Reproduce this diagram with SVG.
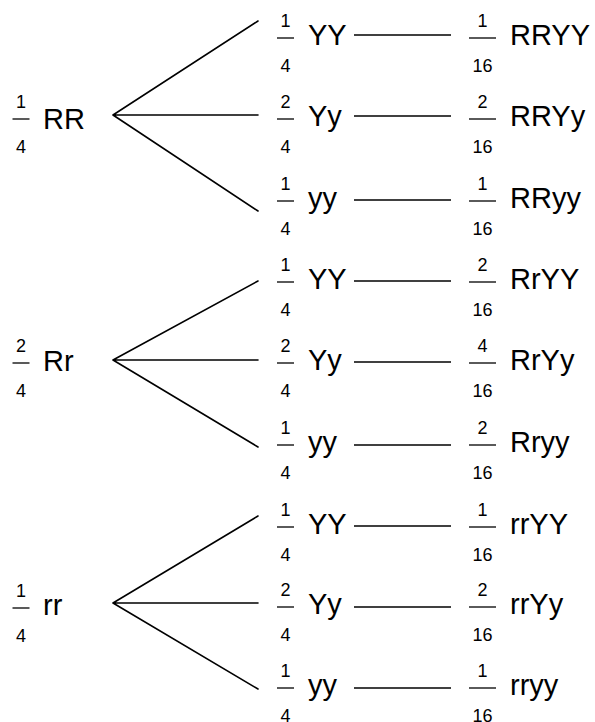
<svg xmlns="http://www.w3.org/2000/svg" width="595" height="722" viewBox="0 0 595 722">
<style>
text{font-family:"Liberation Sans",Arial,sans-serif;fill:#000}
.d{font-size:18px;text-anchor:middle}
.m{font-size:29px}
.bar{stroke:#000;stroke-width:1.3}
.br{stroke:#000;stroke-width:1.6;fill:none;stroke-linecap:round}
.cn{stroke:#000;stroke-width:1.6}
</style>
<rect width="595" height="722" fill="#fff"/>
<defs>
<g id="f4">
<line class="bar" x1="-8.5" y1="0" x2="8.5" y2="0"/>
<text class="d" x="0" y="34">4</text>
</g>
<g id="f16">
<line class="bar" x1="-13.5" y1="0" x2="13.5" y2="0"/>
<text class="d" x="0" y="34">16</text>
</g>
</defs>

<g id="connectors">
<path class="br" d="M113,115 L258,21 M113,115 L258,115 M113,115 L258,211"/>
<path class="br" d="M113,360 L258,281 M113,360 L258,360 M113,360 L258,447"/>
<path class="br" d="M113,603 L258,516 M113,603 L258,603 M113,603 L258,689"/>
<line class="cn" x1="354" y1="35" x2="451" y2="35"/>
<line class="cn" x1="354" y1="116" x2="451" y2="116"/>
<line class="cn" x1="354" y1="200" x2="451" y2="200"/>
<line class="cn" x1="354" y1="281" x2="451" y2="281"/>
<line class="cn" x1="354" y1="362" x2="451" y2="362"/>
<line class="cn" x1="354" y1="445" x2="451" y2="445"/>
<line class="cn" x1="354" y1="526" x2="451" y2="526"/>
<line class="cn" x1="354" y1="607" x2="451" y2="607"/>
<line class="cn" x1="354" y1="688" x2="451" y2="688"/>
</g>

<g id="RR">
<text class="d" x="21" y="108">1</text><use href="#f4" x="21" y="119"/>
<text class="m" x="43" y="129">RR</text>
</g>
<g id="Rr">
<text class="d" x="21" y="352">2</text><use href="#f4" x="21" y="363"/>
<text class="m" x="43" y="371">Rr</text>
</g>
<g id="rr">
<text class="d" x="21" y="597">1</text><use href="#f4" x="21" y="608"/>
<text class="m" x="43" y="615">rr</text>
</g>

<g id="RR-YY"><text class="d" x="285.5" y="27">1</text><use href="#f4" x="285.5" y="38"/><text class="m" x="308" y="45">YY</text></g>
<g id="RR-Yy"><text class="d" x="285.5" y="108">2</text><use href="#f4" x="285.5" y="119"/><text class="m" x="308" y="126">Yy</text></g>
<g id="RR-yy"><text class="d" x="285.5" y="190">1</text><use href="#f4" x="285.5" y="201"/><text class="m" x="308" y="208">yy</text></g>
<g id="Rr-YY"><text class="d" x="285.5" y="271">1</text><use href="#f4" x="285.5" y="282"/><text class="m" x="308" y="289">YY</text></g>
<g id="Rr-Yy"><text class="d" x="285.5" y="352">2</text><use href="#f4" x="285.5" y="363"/><text class="m" x="308" y="370">Yy</text></g>
<g id="Rr-yy"><text class="d" x="285.5" y="434">1</text><use href="#f4" x="285.5" y="445"/><text class="m" x="308" y="452">yy</text></g>
<g id="rr-YY"><text class="d" x="285.5" y="516">1</text><use href="#f4" x="285.5" y="527"/><text class="m" x="308" y="534">YY</text></g>
<g id="rr-Yy"><text class="d" x="285.5" y="596">2</text><use href="#f4" x="285.5" y="607"/><text class="m" x="308" y="614">Yy</text></g>
<g id="rr-yy"><text class="d" x="285.5" y="677">1</text><use href="#f4" x="285.5" y="688"/><text class="m" x="308" y="695">yy</text></g>

<g id="RRYY"><text class="d" x="482.5" y="27">1</text><use href="#f16" x="482.5" y="38"/><text class="m" x="510" y="45">RRYY</text></g>
<g id="RRYy"><text class="d" x="482.5" y="108">2</text><use href="#f16" x="482.5" y="119"/><text class="m" x="510" y="126">RRYy</text></g>
<g id="RRyy"><text class="d" x="482.5" y="190">1</text><use href="#f16" x="482.5" y="201"/><text class="m" x="510" y="208">RRyy</text></g>
<g id="RrYY"><text class="d" x="482.5" y="271">2</text><use href="#f16" x="482.5" y="282"/><text class="m" x="510" y="289">RrYY</text></g>
<g id="RrYy"><text class="d" x="482.5" y="352">4</text><use href="#f16" x="482.5" y="363"/><text class="m" x="510" y="370">RrYy</text></g>
<g id="Rryy"><text class="d" x="482.5" y="434">2</text><use href="#f16" x="482.5" y="445"/><text class="m" x="510" y="452">Rryy</text></g>
<g id="rrYY"><text class="d" x="482.5" y="516">1</text><use href="#f16" x="482.5" y="527"/><text class="m" x="510" y="534">rrYY</text></g>
<g id="rrYy"><text class="d" x="482.5" y="596">2</text><use href="#f16" x="482.5" y="607"/><text class="m" x="510" y="614">rrYy</text></g>
<g id="rryy"><text class="d" x="482.5" y="677">1</text><use href="#f16" x="482.5" y="688"/><text class="m" x="510" y="695">rryy</text></g>
</svg>
